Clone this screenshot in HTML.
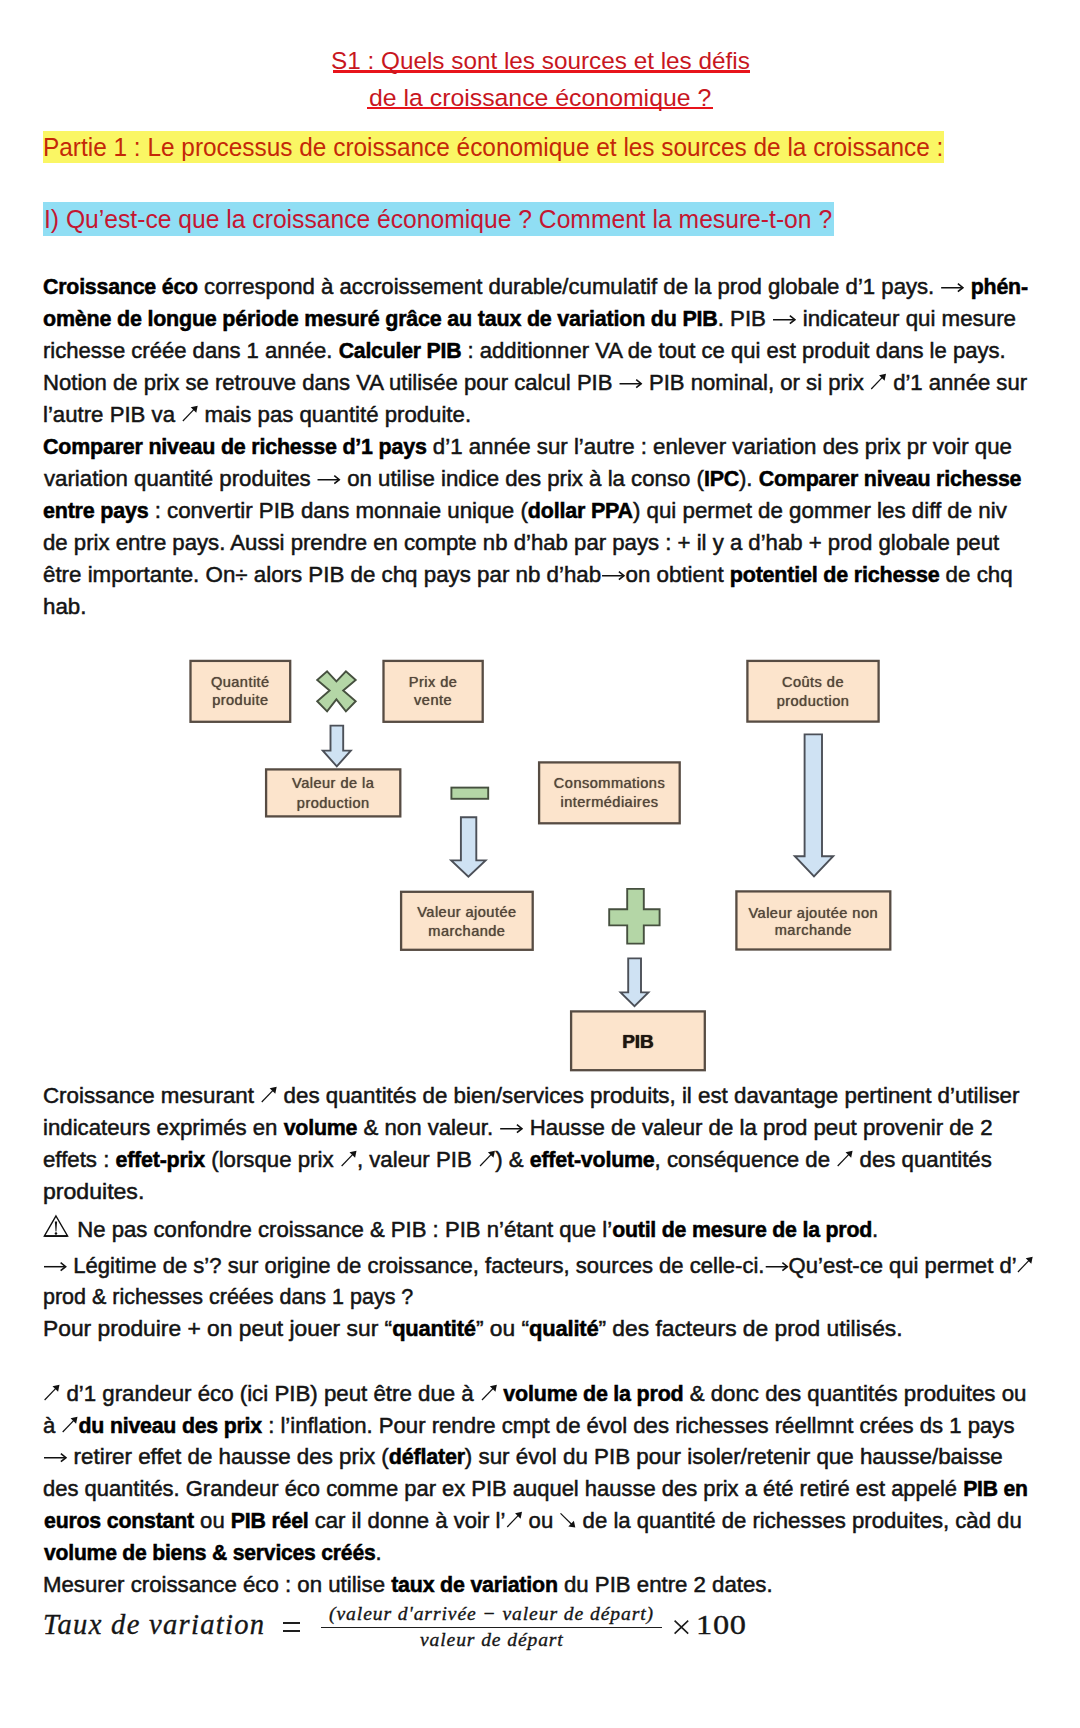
<!DOCTYPE html>
<html><head><meta charset="utf-8">
<style>
html,body{margin:0;padding:0;background:#fff;}
body{width:1080px;height:1728px;position:relative;overflow:hidden;font-family:"Liberation Sans",sans-serif;color:#111;}
.l{position:absolute;white-space:nowrap;line-height:40px;height:40px;}
.s{display:inline-block;transform-origin:0 50%;}
.b{font-size:22.0px;color:#141414;-webkit-text-stroke:0.5px #141414;}
.b b{font-weight:bold;font-size:21.2px;color:#0c0c0c;letter-spacing:-0.2px;-webkit-text-stroke:0.5px #000;color:#000;}
.t{font-size:23.7px;color:#c8161e;}
.h{font-size:25.0px;color:#d01010;}
#h1{color:#c42808;}
#h2{color:#c41632;}
.g{display:inline-block;}
.fi,.fn{font-family:"Liberation Serif",serif;font-style:italic;color:#161616;-webkit-text-stroke:0.35px #161616;}
.fr{font-family:"Liberation Serif",serif;color:#161616;-webkit-text-stroke:0.35px #161616;letter-spacing:0.6px;}
.fi{font-size:28.5px;letter-spacing:1.3px;}.fn{font-size:19.5px;letter-spacing:0.9px;}.fr{font-size:26.5px;}
.fx{font-family:"Liberation Serif",serif;color:#161616;font-size:34px;}
.bar{position:absolute;background:#1e1e1e;}
.hl{position:absolute;}
.ul{position:absolute;background:#e8141b;height:2.4px;}
</style></head><body>
<div class="hl" style="left:43.3px;top:130.5px;width:900.9px;height:32px;background:#faf664"></div>
<div class="hl" style="left:43px;top:202.2px;width:791.2px;height:33.6px;background:#90def4"></div>
<div class="ul" style="left:332.6px;top:70.3px;width:417.8px"></div>
<div class="ul" style="left:366.7px;top:106.8px;width:346.6px"></div>
<div class="l t" style="left:331.00px;top:40.69px"><span id="t1" class="s" style="transform:scaleX(1.0262)">S1 : Quels sont les sources et les défis</span></div>
<div class="l t" style="left:369.00px;top:77.79px"><span id="t2" class="s" style="transform:scaleX(1.0481)">de la croissance économique ?</span></div>
<div class="l h" style="left:43.00px;top:126.84px"><span id="h1" class="s" style="transform:scaleX(0.9758)">Partie 1 : Le processus de croissance économique et les sources de la croissance :</span></div>
<div class="l h" style="left:43.50px;top:198.74px"><span id="h2" class="s" style="transform:scaleX(0.9864)">I) Qu’est-ce que la croissance économique ? Comment la mesure-t-on ?</span></div>
<div class="l b" style="left:43.00px;top:266.88px"><span id="p1_0" class="s" style="transform:scaleX(1.0069)"><b>Croissance éco</b> correspond à accroissement durable/cumulatif de la prod globale d’1 pays. <svg class="g" width="24" height="20" viewBox="0 0 24 20" style="vertical-align:0"><path d="M1 13.7 L21.5 13.7" stroke="#111" stroke-width="1.5" fill="none"/><path d="M17.6 9.7 L22.6 13.7 L17.6 17.7" stroke="#111" stroke-width="1.6" fill="none" stroke-linejoin="miter"/></svg> <b>phén-</b></span></div>
<div class="l b" style="left:43.00px;top:298.92px"><span id="p1_1" class="s" style="transform:scaleX(1.0139)"><b>omène de longue période mesuré grâce au taux de variation du PIB</b>. PIB <svg class="g" width="24" height="20" viewBox="0 0 24 20" style="vertical-align:0"><path d="M1 13.7 L21.5 13.7" stroke="#111" stroke-width="1.5" fill="none"/><path d="M17.6 9.7 L22.6 13.7 L17.6 17.7" stroke="#111" stroke-width="1.6" fill="none" stroke-linejoin="miter"/></svg> indicateur qui mesure</span></div>
<div class="l b" style="left:43.00px;top:330.96px"><span id="p1_2" class="s" style="transform:scaleX(1.0030)">richesse créée dans 1 année. <b>Calculer PIB</b> : additionner VA de tout ce qui est produit dans le pays.</span></div>
<div class="l b" style="left:43.00px;top:363.00px"><span id="p1_3" class="s" style="transform:scaleX(1.0044)">Notion de prix se retrouve dans VA utilisée pour calcul PIB <svg class="g" width="24" height="20" viewBox="0 0 24 20" style="vertical-align:0"><path d="M1 13.7 L21.5 13.7" stroke="#111" stroke-width="1.5" fill="none"/><path d="M17.6 9.7 L22.6 13.7 L17.6 17.7" stroke="#111" stroke-width="1.6" fill="none" stroke-linejoin="miter"/></svg> PIB nominal, or si prix <svg class="g" width="17" height="20" viewBox="0 0 17 20" style="vertical-align:-1px"><path d="M1.6 18.0 L13.6 5.4" stroke="#111" stroke-width="1.2" fill="none"/><path d="M16.3 2.8 L9.4 4.2 L14.9 9.8 Z" fill="#111"/></svg> d’1 année sur</span></div>
<div class="l b" style="left:43.00px;top:395.04px"><span id="p1_4" class="s" style="transform:scaleX(1.0090)">l’autre PIB va <svg class="g" width="17" height="20" viewBox="0 0 17 20" style="vertical-align:-1px"><path d="M1.6 18.0 L13.6 5.4" stroke="#111" stroke-width="1.2" fill="none"/><path d="M16.3 2.8 L9.4 4.2 L14.9 9.8 Z" fill="#111"/></svg> mais pas quantité produite.</span></div>
<div class="l b" style="left:43.00px;top:427.08px"><span id="p1_5" class="s" style="transform:scaleX(1.0120)"><b>Comparer niveau de richesse d’1 pays</b> d’1 année sur l’autre : enlever variation des prix pr voir que</span></div>
<div class="l b" style="left:44.00px;top:459.12px"><span id="p1_6" class="s" style="transform:scaleX(1.0093)">variation quantité produites <svg class="g" width="24" height="20" viewBox="0 0 24 20" style="vertical-align:0"><path d="M1 13.7 L21.5 13.7" stroke="#111" stroke-width="1.5" fill="none"/><path d="M17.6 9.7 L22.6 13.7 L17.6 17.7" stroke="#111" stroke-width="1.6" fill="none" stroke-linejoin="miter"/></svg> on utilise indice des prix à la conso (<b>IPC</b>). <b>Comparer niveau richesse</b></span></div>
<div class="l b" style="left:43.00px;top:491.16px"><span id="p1_7" class="s" style="transform:scaleX(1.0139)"><b>entre pays</b> : convertir PIB dans monnaie unique (<b>dollar PPA</b>) qui permet de gommer les diff de niv</span></div>
<div class="l b" style="left:43.00px;top:523.20px"><span id="p1_8" class="s" style="transform:scaleX(1.0075)">de prix entre pays. Aussi prendre en compte nb d’hab par pays : + il y a d’hab + prod globale peut</span></div>
<div class="l b" style="left:43.00px;top:555.24px"><span id="p1_9" class="s" style="transform:scaleX(1.0146)">être importante. On÷ alors PIB de chq pays par nb d’hab<svg class="g" width="24" height="20" viewBox="0 0 24 20" style="vertical-align:0"><path d="M1 13.7 L21.5 13.7" stroke="#111" stroke-width="1.5" fill="none"/><path d="M17.6 9.7 L22.6 13.7 L17.6 17.7" stroke="#111" stroke-width="1.6" fill="none" stroke-linejoin="miter"/></svg>on obtient <b>potentiel de richesse</b> de chq</span></div>
<div class="l b" style="left:43.00px;top:587.28px"><span id="p1_10" class="s" style="transform:scaleX(1.0133)">hab.</span></div>
<div class="l b" style="left:43.00px;top:1076.48px"><span id="p2_0" class="s" style="transform:scaleX(1.0147)">Croissance mesurant <svg class="g" width="17" height="20" viewBox="0 0 17 20" style="vertical-align:-1px"><path d="M1.6 18.0 L13.6 5.4" stroke="#111" stroke-width="1.2" fill="none"/><path d="M16.3 2.8 L9.4 4.2 L14.9 9.8 Z" fill="#111"/></svg> des quantités de bien/services produits, il est davantage pertinent d’utiliser</span></div>
<div class="l b" style="left:43.00px;top:1108.48px"><span id="p2_1" class="s" style="transform:scaleX(1.0092)">indicateurs exprimés en <b>volume</b> &amp; non valeur. <svg class="g" width="24" height="20" viewBox="0 0 24 20" style="vertical-align:0"><path d="M1 13.7 L21.5 13.7" stroke="#111" stroke-width="1.5" fill="none"/><path d="M17.6 9.7 L22.6 13.7 L17.6 17.7" stroke="#111" stroke-width="1.6" fill="none" stroke-linejoin="miter"/></svg> Hausse de valeur de la prod peut provenir de 2</span></div>
<div class="l b" style="left:43.00px;top:1140.18px"><span id="p2_2" class="s" style="transform:scaleX(1.0103)">effets : <b>effet-prix</b> (lorsque prix <svg class="g" width="17" height="20" viewBox="0 0 17 20" style="vertical-align:-1px"><path d="M1.6 18.0 L13.6 5.4" stroke="#111" stroke-width="1.2" fill="none"/><path d="M16.3 2.8 L9.4 4.2 L14.9 9.8 Z" fill="#111"/></svg>, valeur PIB <svg class="g" width="17" height="20" viewBox="0 0 17 20" style="vertical-align:-1px"><path d="M1.6 18.0 L13.6 5.4" stroke="#111" stroke-width="1.2" fill="none"/><path d="M16.3 2.8 L9.4 4.2 L14.9 9.8 Z" fill="#111"/></svg>) &amp; <b>effet-volume</b>, conséquence de <svg class="g" width="17" height="20" viewBox="0 0 17 20" style="vertical-align:-1px"><path d="M1.6 18.0 L13.6 5.4" stroke="#111" stroke-width="1.2" fill="none"/><path d="M16.3 2.8 L9.4 4.2 L14.9 9.8 Z" fill="#111"/></svg> des quantités</span></div>
<div class="l b" style="left:43.00px;top:1172.48px"><span id="p2_3" class="s" style="transform:scaleX(1.0487)">produites.</span></div>
<div class="l b" style="left:43.00px;top:1210.28px"><span id="p2_4" class="s" style="transform:scaleX(1.0054)"><svg class="g" width="28" height="26" viewBox="0 0 28 26" style="vertical-align:-1px"><path d="M12.9 4.0 L24.4 24.0 L1.4 24.0 Z" stroke="#111" stroke-width="1.45" fill="none" stroke-linejoin="miter"/><path d="M1.4 24.1 L24.4 24.1" stroke="#111" stroke-width="1.9" fill="none"/><path d="M11.8 9.6 L14.0 9.6 L13.3 19.6 L12.5 19.6 Z" fill="#111"/><circle cx="12.9" cy="21.6" r="1.25" fill="#111"/></svg> Ne pas confondre croissance &amp; PIB : PIB n’étant que l’<b>outil de mesure de la prod</b>.</span></div>
<div class="l b" style="left:43.00px;top:1245.68px"><span id="p2_5" class="s" style="transform:scaleX(1.0024)"><svg class="g" width="24" height="20" viewBox="0 0 24 20" style="vertical-align:0"><path d="M1 13.7 L21.5 13.7" stroke="#111" stroke-width="1.5" fill="none"/><path d="M17.6 9.7 L22.6 13.7 L17.6 17.7" stroke="#111" stroke-width="1.6" fill="none" stroke-linejoin="miter"/></svg> Légitime de s’? sur origine de croissance, facteurs, sources de celle-ci.<svg class="g" width="24" height="20" viewBox="0 0 24 20" style="vertical-align:0"><path d="M1 13.7 L21.5 13.7" stroke="#111" stroke-width="1.5" fill="none"/><path d="M17.6 9.7 L22.6 13.7 L17.6 17.7" stroke="#111" stroke-width="1.6" fill="none" stroke-linejoin="miter"/></svg>Qu’est-ce qui permet d’<svg class="g" width="17" height="20" viewBox="0 0 17 20" style="vertical-align:-1px"><path d="M1.6 18.0 L13.6 5.4" stroke="#111" stroke-width="1.2" fill="none"/><path d="M16.3 2.8 L9.4 4.2 L14.9 9.8 Z" fill="#111"/></svg></span></div>
<div class="l b" style="left:43.00px;top:1277.18px"><span id="p2_6" class="s" style="transform:scaleX(0.9768)">prod &amp; richesses créées dans 1 pays ?</span></div>
<div class="l b" style="left:43.00px;top:1308.78px"><span id="p2_7" class="s" style="transform:scaleX(1.0363)">Pour produire + on peut jouer sur “<b>quantité</b>” ou “<b>qualité</b>” des facteurs de prod utilisés.</span></div>
<div class="l b" style="left:43.00px;top:1373.78px"><span id="p3_0" class="s" style="transform:scaleX(1.0124)"><svg class="g" width="17" height="20" viewBox="0 0 17 20" style="vertical-align:-1px"><path d="M1.6 18.0 L13.6 5.4" stroke="#111" stroke-width="1.2" fill="none"/><path d="M16.3 2.8 L9.4 4.2 L14.9 9.8 Z" fill="#111"/></svg> d’1 grandeur éco (ici PIB) peut être due à <svg class="g" width="17" height="20" viewBox="0 0 17 20" style="vertical-align:-1px"><path d="M1.6 18.0 L13.6 5.4" stroke="#111" stroke-width="1.2" fill="none"/><path d="M16.3 2.8 L9.4 4.2 L14.9 9.8 Z" fill="#111"/></svg> <b>volume de la prod</b> &amp; donc des quantités produites ou</span></div>
<div class="l b" style="left:43.00px;top:1405.63px"><span id="p3_1" class="s" style="transform:scaleX(1.0055)">à <svg class="g" width="17" height="20" viewBox="0 0 17 20" style="vertical-align:-1px"><path d="M1.6 18.0 L13.6 5.4" stroke="#111" stroke-width="1.2" fill="none"/><path d="M16.3 2.8 L9.4 4.2 L14.9 9.8 Z" fill="#111"/></svg><b>du niveau des prix</b> : l’inflation. Pour rendre cmpt de évol des richesses réellmnt crées ds 1 pays</span></div>
<div class="l b" style="left:43.00px;top:1437.48px"><span id="p3_2" class="s" style="transform:scaleX(1.0159)"><svg class="g" width="24" height="20" viewBox="0 0 24 20" style="vertical-align:0"><path d="M1 13.7 L21.5 13.7" stroke="#111" stroke-width="1.5" fill="none"/><path d="M17.6 9.7 L22.6 13.7 L17.6 17.7" stroke="#111" stroke-width="1.6" fill="none" stroke-linejoin="miter"/></svg> retirer effet de hausse des prix (<b>déflater</b>) sur évol du PIB pour isoler/retenir que hausse/baisse</span></div>
<div class="l b" style="left:43.00px;top:1469.33px"><span id="p3_3" class="s" style="transform:scaleX(0.9979)">des quantités. Grandeur éco comme par ex PIB auquel hausse des prix a été retiré est appelé <b>PIB en</b></span></div>
<div class="l b" style="left:44.00px;top:1501.18px"><span id="p3_4" class="s" style="transform:scaleX(1.0057)"><b>euros constant</b> ou <b>PIB réel</b> car il donne à voir l’<svg class="g" width="17" height="20" viewBox="0 0 17 20" style="vertical-align:-1px"><path d="M1.6 18.0 L13.6 5.4" stroke="#111" stroke-width="1.2" fill="none"/><path d="M16.3 2.8 L9.4 4.2 L14.9 9.8 Z" fill="#111"/></svg> ou <svg class="g" width="17" height="20" viewBox="0 0 17 20" style="vertical-align:-1px"><path d="M1.6 4.4 L13.6 16.2" stroke="#111" stroke-width="1.2" fill="none"/><path d="M16.3 18.6 L9.4 17.4 L14.9 11.8 Z" fill="#111"/></svg> de la quantité de richesses produites, càd du</span></div>
<div class="l b" style="left:44.00px;top:1533.03px"><span id="p3_5" class="s" style="transform:scaleX(0.9961)"><b>volume de biens &amp; services créés</b>.</span></div>
<div class="l b" style="left:43.00px;top:1564.88px"><span id="p3_6" class="s" style="transform:scaleX(1.0097)">Mesurer croissance éco : on utilise <b>taux de variation</b> du PIB entre 2 dates.</span></div>
<div class="l fi" style="left:42.80px;top:1605.28px"><span id="f1" class="s" style="transform:scaleX(1.0008)">Taux de variation</span></div>
<div class="l fn" style="left:329.20px;top:1593.62px"><span id="f2" class="s" style="transform:scaleX(1.0063)">(valeur d'arrivée − valeur de départ)</span></div>
<div class="l fn" style="left:420.40px;top:1619.52px"><span id="f3" class="s" style="transform:scaleX(1.0029)">valeur de départ</span></div>
<div class="l fr" style="left:696.30px;top:1605.36px"><span id="f5" class="s" style="transform:scaleX(1.2219)">100</span></div>
<svg style="position:absolute;left:0;top:0" width="1080" height="1728" viewBox="0 0 1080 1728"><rect x="190.5" y="660.9" width="99.7" height="60.9" fill="#fce4cc" stroke="#574c43" stroke-width="2.3"/><rect x="383.5" y="660.9" width="99.2" height="60.9" fill="#fce4cc" stroke="#574c43" stroke-width="2.3"/><rect x="747.4" y="660.9" width="131.2" height="60.7" fill="#fce4cc" stroke="#574c43" stroke-width="2.3"/><rect x="266.1" y="769.4" width="134.2" height="47.0" fill="#fce4cc" stroke="#574c43" stroke-width="2.3"/><rect x="539.1" y="762.4" width="140.6" height="60.9" fill="#fce4cc" stroke="#574c43" stroke-width="2.3"/><rect x="401.1" y="891.8" width="131.6" height="58.0" fill="#fce4cc" stroke="#574c43" stroke-width="2.3"/><rect x="736.4" y="891.4" width="153.9" height="58.1" fill="#fce4cc" stroke="#574c43" stroke-width="2.3"/><rect x="571.1" y="1011.4" width="133.7" height="58.8" fill="#fce4cc" stroke="#574c43" stroke-width="2.3"/><path d="M327.1 671.3 L336.4 681.4 L345.9 671.3 L355.7 680.0 L343.2 690.5 L355.7 701.2 L345.9 711.3 L336.4 699.4 L327.1 711.3 L317.2 701.2 L329.6 690.5 L317.2 680.0 Z" fill="#b4d6a6" stroke="#46503f" stroke-width="1.9" stroke-linejoin="miter"/><rect x="451.4" y="787.6" width="36.8" height="11.2" fill="#b4d6a6" stroke="#46503f" stroke-width="1.9"/><path d="M627.2 888.9 L643.8 888.9 L643.8 909.2 L659.6 909.2 L659.6 925.4 L643.8 925.4 L643.8 943.6 L627.2 943.6 L627.2 925.4 L609.2 925.4 L609.2 909.2 L627.2 909.2 Z" fill="#b4d6a6" stroke="#46503f" stroke-width="1.9" stroke-linejoin="miter"/><path d="M330.5 725.6 L343.2 725.6 L343.2 750.6 L350.8 750.6 L336.8 766.4 L322.8 750.6 L330.5 750.6 Z" fill="#cfe2f3" stroke="#4c5058" stroke-width="1.9" stroke-linejoin="miter"/><path d="M460.9 817.2 L476.3 817.2 L476.3 860.4 L485.6 860.4 L468.4 876.8 L451.2 860.4 L460.9 860.4 Z" fill="#cfe2f3" stroke="#4c5058" stroke-width="1.9" stroke-linejoin="miter"/><path d="M628.2 958.4 L641.0 958.4 L641.0 992.4 L648.4 992.4 L634.5 1006.2 L620.6 992.4 L628.2 992.4 Z" fill="#cfe2f3" stroke="#4c5058" stroke-width="1.9" stroke-linejoin="miter"/><path d="M804.6 734.4 L822.0 734.4 L822.0 856.2 L833.2 856.2 L814.0 876.4 L794.8 856.2 L804.6 856.2 Z" fill="#cfe2f3" stroke="#4c5058" stroke-width="1.9" stroke-linejoin="miter"/></svg><style>.dt{position:absolute;width:200px;text-align:center;white-space:nowrap;line-height:20px;height:20px;font-family:"Liberation Sans",sans-serif;font-size:14.6px;letter-spacing:0.45px;color:#55473b;text-shadow:0 0 0.8px #55473b;-webkit-text-stroke:0px #55473b;}</style><div class="dt" style="left:140.3px;top:672.04px">Quantité</div><div class="dt" style="left:140.3px;top:689.84px">produite</div><div class="dt" style="left:333.1px;top:672.04px">Prix de</div><div class="dt" style="left:333.1px;top:690.04px">vente</div><div class="dt" style="left:713.0px;top:672.14px">Coûts de</div><div class="dt" style="left:713.0px;top:690.64px">production</div><div class="dt" style="left:233.2px;top:773.24px">Valeur de la</div><div class="dt" style="left:233.2px;top:792.84px">production</div><div class="dt" style="left:509.5px;top:773.24px">Consommations</div><div class="dt" style="left:509.5px;top:792.44px">intermédiaires</div><div class="dt" style="left:366.9px;top:902.24px">Valeur ajoutée</div><div class="dt" style="left:366.9px;top:920.64px">marchande</div><div class="dt" style="left:713.3px;top:902.54px">Valeur ajoutée non</div><div class="dt" style="left:713.3px;top:920.44px">marchande</div><div class="dt" style="left:538.0px;top:1031.61px;font-weight:bold;font-size:19px;color:#1e1610;letter-spacing:0;text-shadow:0 0 1px #1e1610;-webkit-text-stroke:0.2px #1e1610">PIB</div>
<div class="bar" style="left:283px;top:1622.4px;width:16.8px;height:2.0px"></div>
<div class="bar" style="left:283px;top:1629.5px;width:16.8px;height:2.0px"></div>
<div class="bar" style="left:320.5px;top:1626.6px;width:341.5px;height:1.3px"></div>
<svg style="position:absolute;left:670px;top:1616px" width="24" height="22" viewBox="0 0 24 22"><path d="M4.6 4.6 L18.2 17.6 M18.2 4.6 L4.6 17.6" stroke="#1a1a1a" stroke-width="1.6" fill="none"/></svg>
</body></html>
